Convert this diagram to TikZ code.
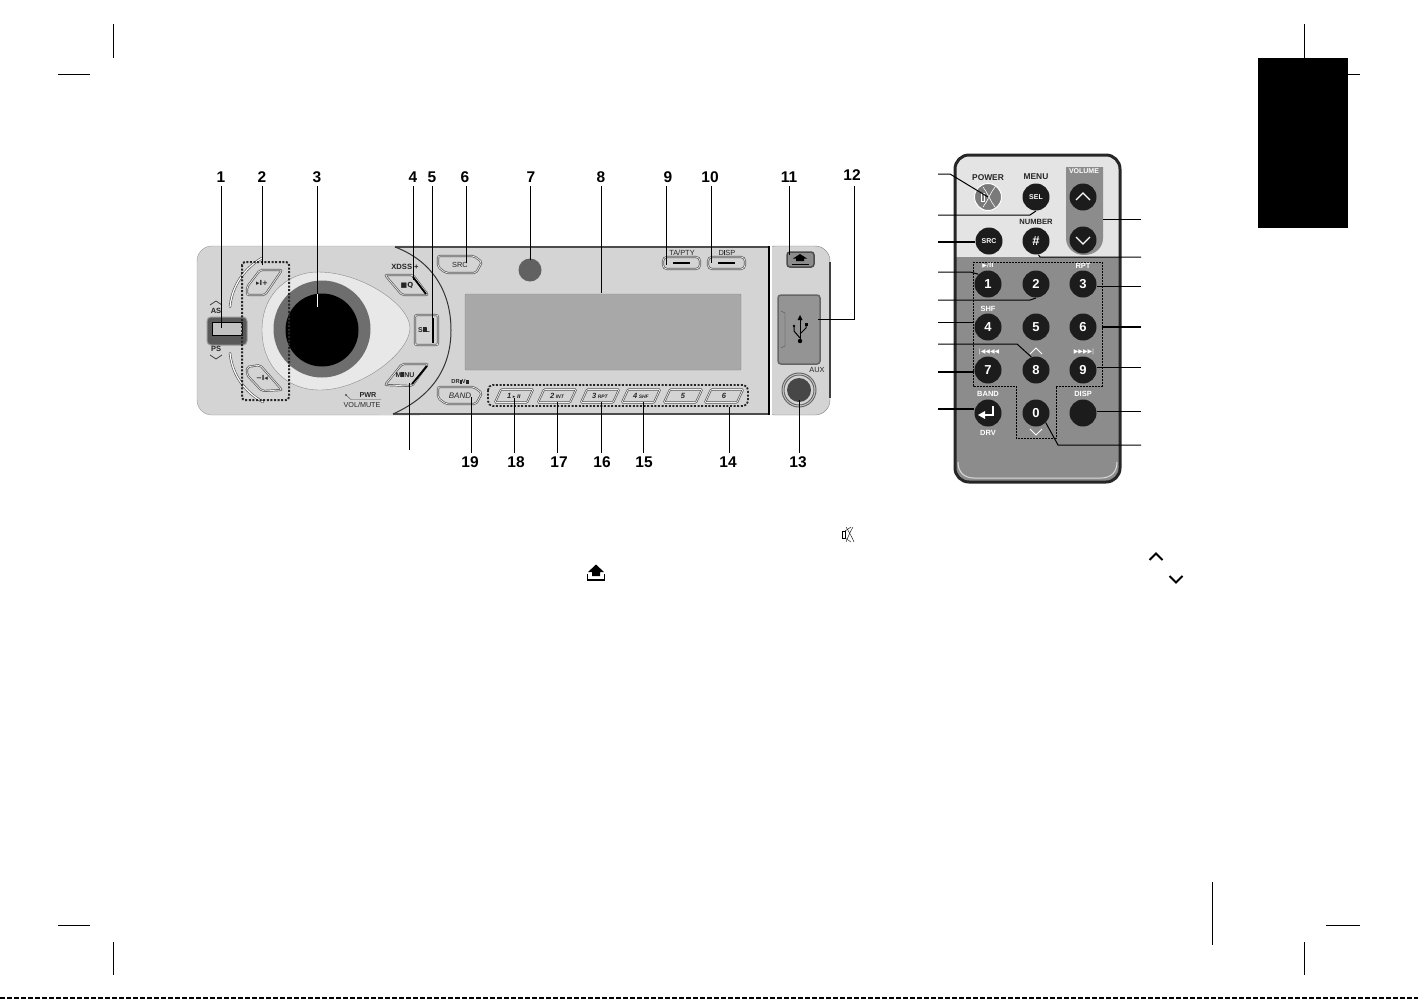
\documentclass[tikz,border=0pt]{standalone}
\usepackage{fontspec}
\setmainfont{Liberation Sans}
\newfontfamily\symfont{DejaVu Sans}
\usetikzlibrary{positioning}
\usetikzlibrary{calc}
\definecolor{plate}{HTML}{D4D4D4}
\definecolor{lcd}{HTML}{A8A8A8}
\definecolor{ringgray}{HTML}{6E6E6E}
\definecolor{remotegray}{HTML}{8C8C8C}
\definecolor{remotelight}{HTML}{E4E4E4}
\definecolor{keyblack}{HTML}{1C1C1C}
\tikzset{every picture/.style={line width=1pt}}

\begin{document}
\begin{tikzpicture}[x=1pt,y=-1pt,
num/.style={inner sep=0pt, font=\fontsize{15.5}{15.5}\selectfont\bfseries},
leader/.style={black, line width=1pt},
thickleader/.style={black, line width=1.8pt},
key/.style={circle, fill=keyblack, minimum width=27pt, inner sep=0pt, text=white, font=\fontsize{7}{7}\selectfont\bfseries},
digit/.style={key, font=\fontsize{13}{13}\selectfont\bfseries},
rlab/.style={inner sep=0pt, text=white, font=\fontsize{7.5}{7.5}\selectfont\bfseries},
tlab/.style={inner sep=0pt, text=black!85, font=\fontsize{8.4}{8.4}\selectfont\bfseries},
flab/.style={inner sep=0pt, text=black!85, font=\fontsize{7.4}{7.4}\selectfont},
plab/.style={flab, font=\fontsize{5}{5}\selectfont\bfseries\itshape},
btn/.style={draw=black!65, double=plate!40, double distance=0.7pt, line width=0.7pt, fill=plate, rounded corners=2pt},
dotbox/.style={draw=black!85, line width=2pt, dash pattern=on 2pt off 1.6pt, rounded corners=3pt},
chev/.style={line width=0.8pt, draw=black!75}]

\useasboundingbox (0,0) rectangle (1418,999);

% crop marks and tab
\foreach \a/\b in {{113,24}/{113,58}, {58,74}/{90,74}, {1304,24}/{1304,58}, {1330,74}/{1360,74},
  {58,925}/{90,925}, {113,942}/{113,975}, {1304,942}/{1304,975}, {1326,925}/{1360,925}, {1212,882}/{1212,945}}
{ \draw[thin, black] (\a) -- (\b); }
\fill[black] (1258,58) rectangle (1348,228);
\draw[black, line width=1.2pt, dash pattern=on 5pt off 2pt] (0,998) -- (1418,998);

% faceplate
\draw[fill=plate, draw=black!50, thin, rounded corners=15pt] (760,246) -- (830,246) -- (830,415) -- (760,415) -- cycle;
\draw[black!75, line width=1.2pt] (830,262) -- (830,398);
\fill[white] (768,244) rectangle (772,417);
\draw[fill=plate, draw=black!40, thin, rounded corners=15pt] (420,246) -- (197,246) -- (197,415) -- (420,415);
\fill[plate] (380,246.5) rectangle (768,414.5);
\draw[black!70, line width=1.2pt] (395,247) -- (768,247);
\draw[black!70, line width=1.2pt] (393,414) -- (768,414);
\draw[black, line width=2pt] (769,246) -- (769,415);
\draw[black!80, line width=1pt] (395,247) .. controls (435,262) and (451,295) .. (451,330) .. controls (451,365) and (435,395) .. (393,414);

% display and eye
\draw[fill=lcd, draw=black!45, thin, rounded corners=1pt] (465,294) rectangle (741,370);
\draw[fill=black!9, draw=black!45, thin] (262,330) .. controls (262,292) and (290,272) .. (318,272) .. controls (362,272) and (410,305) .. (410,328) .. controls (410,352) and (362,390) .. (320,390) .. controls (285,390) and (262,365) .. (262,330) -- cycle;
\fill[ringgray] (322,329) circle (48.5);
\node (dial) at (322,330) [circle, fill=black, minimum width=73pt, inner sep=0pt] {};
\node (sensor) at (530,270) [circle, fill=black!62, minimum width=23pt, inner sep=0pt] {};

% left side buttons
\draw[fill=black!65, draw=black!40, rounded corners=4pt] (207,317) rectangle (247,345);
\draw[fill=lcd!70, draw=black, thin] (212,322) rectangle (242,335);
\draw[black!70, line width=2.4pt, line cap=round] (230,307) .. controls (232,285) and (245,268) .. (262,258);
\draw[white, line width=1.2pt, line cap=round] (230,307) .. controls (232,285) and (245,268) .. (262,258);
\draw[black!70, line width=2.4pt, line cap=round] (230,353) .. controls (232,375) and (245,392) .. (263,402);
\draw[white, line width=1.2pt, line cap=round] (230,353) .. controls (232,375) and (245,392) .. (263,402);
\draw[btn] (247,287) -- (260,270) -- (282,270) -- (265,295) -- (247,295) -- cycle;
\draw[btn] (247,367) -- (260,365) -- (282,390) -- (262,391) -- (247,375) -- cycle;
\draw[dotbox] (242,262) rectangle (289,400);
\node (nexttxt) at (262,283) [flab, font=\fontsize{7}{7}\selectfont\bfseries] {\symfont ▸I+};
\node (prevtxt) at (262,378) [flab, font=\fontsize{7}{7}\selectfont\bfseries] {\symfont −I◂};
\node (astxt) at (216,311) [tlab, font=\fontsize{7.5}{7.5}\selectfont\bfseries] {AS};
\node (pstxt) at (216,349) [tlab, font=\fontsize{7.5}{7.5}\selectfont\bfseries] {PS};
\draw[chev] (210,305) -- (216,301) -- (222,305);
\draw[chev] (210,355) -- (216,359) -- (222,355);

% buttons at the arc
\draw[btn] (385,275) -- (413,275) -- (428,295) -- (402,295) -- cycle;
\draw[black, line width=1.8pt] (413,277) -- (426,294);
\draw[btn] (415,315) rectangle (438,345);
\draw[black, line width=2pt] (433,318) -- (433,343);
\draw[btn] (385,385) -- (402,364) -- (428,364) -- (412,386) -- cycle;
\draw[black, line width=1.8pt] (427,366) -- (412,384);
\node (xdsstxt) at (405,267) [flab, font=\fontsize{7.6}{7.6}\selectfont\bfseries] {XDSS +};
\node (eqtxt) at (407,285) [flab, font=\fontsize{7}{7}\selectfont\bfseries] {\symfont ■Q};
\node (seltxt) at (424,330) [flab, font=\fontsize{7}{7}\selectfont\bfseries] {S\rule{3pt}{5pt}L};
\node (menutxt) at (405,375) [flab, font=\fontsize{7}{7}\selectfont\bfseries] {M\rule{3pt}{5pt}NU};
\node (pwrtxt) at (368,395) [flab, font=\fontsize{7.2}{7.2}\selectfont\bfseries] {PWR};
\node (voltxt) at (362,405) [flab, font=\fontsize{7.2}{7.2}\selectfont] {VOL/MUTE};
\fill[black!70] (346,395) circle (1.1);
\draw[black!70, thin] (346,395) -- (351,399.5) -- (381,399.5);

% top and bottom buttons
\foreach \y in {256,387}
{ \draw[btn] (438,\y) -- (474,\y) -- (482,\y+6) -- (476,\y+17) -- (446,\y+17) -- (438,\y+11) -- cycle; }
\node (srctxt) at (460,265) [flab] {SRC};
\node (bandtxt) at (460,396) [flab, font=\fontsize{8}{8}\selectfont\itshape] {BAND};
\node (drvtxt) at (460,381.5) [flab, font=\fontsize{5.8}{5.8}\selectfont\bfseries] {DR\rule{2pt}{4pt}V\rule{3pt}{4pt}};

\foreach \x/\t in {663/{TA/PTY}, 708/{D\rule{1.5pt}{5pt}SP}}
{ \draw[btn, rounded corners=4pt] (\x,257) rectangle (\x+37,269);
  \draw[black, line width=1.4pt] (\x+10,263) -- (\x+27,263);
  \node at (\x+19,252.5) [flab] {\t}; }

\foreach \x/\d/\t in {495/1/{\symfont ▸ II}, 538/2/INT, 581/3/RPT, 622/4/SHF, 664/5/, 705/6/}
{ \draw[btn, rounded corners=1pt] (\x+6,389.5) -- (\x+38,389.5) -- (\x+32,402.5) -- (\x,402.5) -- cycle;
  \node at (\x+19,396) [plab] {{\fontsize{7.5}{7.5}\selectfont\d}\ \t}; }
\draw[dotbox, line width=1.8pt, rounded corners=5pt] (488,385) rectangle (748,406);

% right part
\draw[fill=black!45, draw=black!70, line width=1.5pt, rounded corners=3pt] (787,252) rectangle (814,267);
\fill[black] (800,254) -- (807,258.5) -- (804,258.5) -- (804,261) -- (796,261) -- (796,258.5) -- (793,258.5) -- cycle;
\draw[black, thin] (792,264) -- (809,264);

\draw[fill=black!42, draw=black!60, line width=1.5pt, rounded corners=3pt] (778,295) rectangle (820,364);
\draw[black!70, thin] (781,311) -- (785,313) -- (785,346) -- (781,348);
\draw[black, thick] (800,342) -- (800,318);
\fill[black] (800,341) circle (2.2);
\fill[black] (800,315) -- (797.5,320) -- (802.5,320) -- cycle;
\draw[black] (800,338) -- (794,331) -- (794,327);
\draw[black] (800,334) -- (806,328) -- (806,325);
\fill[black] (794,326) circle (1.4);
\fill[black] (804.5,323) rectangle (807.5,326);
\node (auxtxt) at (817,370) [flab] {AUX};
\draw[fill=plate, draw=black!60] (799,390) circle (17);
\draw[draw=black!60, fill=plate] (799,390) circle (15);
\node (jack) at (799,390) [circle, fill=black!72, minimum width=24pt, inner sep=0pt] {};

% numbers above
\foreach \n/\x/\xt/\yt in {1/221/221/328, 2/262/262/265, 3/317/317/294, 4/413/413/280, 5/432/432/323, 6/465/466/263,
  7/531/530/260, 8/601/601/293, 9/668/666/265, 10/710/711/263, 11/789/789/255}
{ \node (n\n) at (\x,177) [num] {\n};
  \coordinate (t\n) at (\xt,\yt);
  \draw[leader] (n\n.south -| t\n) ++(0,3) -- (t\n); }
\draw[white, line width=1pt] (t3) -- ++(0,13);
\node (n12) at (852,175) [num] {12};
\coordinate (t12) at (818,319);
\draw[leader] (854,186) |- (t12);

% numbers below
\foreach \n/\x/\xt/\yt in {19/470/471/397, 18/516/514/398, 17/559/557/402, 16/602/601/402, 15/644/643/402, 14/728/729/407, 13/798/799/400}
{ \node (n\n) at (\x,462) [num] {\n};
  \coordinate (t\n) at (\xt,\yt);
  \draw[leader] (n\n.north -| t\n) ++(0,-3) -- (t\n); }
\coordinate (menufree) at (409,450);
\coordinate (menubtn) at (409,383);
\draw[leader] (menufree) -- (menubtn);

% remote body
\draw[fill=remotelight, draw=none, rounded corners=14pt] (955,155) rectangle (1120,482);
\fill[remotegray, rounded corners=14pt] (956,257) -- (956,481) -- (1119,481) -- (1119,257) -- cycle;
\fill[remotegray] (956,257) rectangle (1119,275);
\draw[white!70!remotegray, line width=1pt] (958,462) .. controls (958,472) and (964,478) .. (974,478) -- (1101,478) .. controls (1111,478) and (1117,472) .. (1117,462);
\draw[black!85, line width=3pt, rounded corners=14pt] (955,155) rectangle (1120,482);
\fill[remotegray] (1066,167) -- (1066,238) .. controls (1066,248) and (1074,255) .. (1084,255) .. controls (1095,255) and (1103,248) .. (1103,238) -- (1103,167) -- cycle;

\draw[black, thin, dash pattern=on 2pt off 1pt] (973,262) -- (1102,262) -- (1102,386) -- (1056,386) -- (1056,438) -- (1016,438) -- (1016,386) -- (973,386) -- cycle;

% remote keys
\node (bpower) at (988,197) [key, fill=black!52, draw=white, line width=1pt] {};
\foreach \a in {-1,1}
{ \draw[white, line width=0.6pt] (989+\a*6,187) .. controls (989+\a*1,193) and (989-\a*1,201) .. (989-\a*6,207); }
\draw[white, line width=0.6pt] (981,193) rectangle (984,201);
\foreach \nm/\x/\y/\t in {bsel/1036/197/SEL, bsrc/989/241/SRC, bdisp/1083/413/{}, bband/988/413/{}, bup/1083/197/{}, bdown/1083/240/{}}
{ \node (\nm) at (\x,\y) [key] {\t}; }
\foreach \nm/\x/\y/\t in {bhash/1036/241/\#, bone/988/284/1, btwo/1036/284/2, bthree/1083/284/3, bfour/988/327/4,
  bfive/1036/327/5, bsix/1083/327/6, bseven/988/370/7, beight/1036/370/8, bnine/1083/370/9, bzero/1036/413/0}
{ \node (\nm) at (\x,\y) [digit] {\t}; }
\draw[white, line width=1.3pt] (1076,200) -- (1083,193) -- (1090,200);
\draw[white, line width=1.3pt] (1076,237) -- (1083,244) -- (1090,237);
\draw[white, line width=1.5pt] (993,406) -- (993,415) -- (982,415);
\fill[white] (978,415) -- (985,411) -- (985,419) -- cycle;
\draw[white, line width=0.8pt] (1030,354) -- (1036,348) -- (1042,354);
\draw[white, line width=0.8pt] (1030,429) -- (1036,435) -- (1042,429);

% remote texts
\node (lpower) at (988,178) [tlab] {POWER};
\node (lmenu) at (1036,177) [tlab] {MENU};
\node (lnumber) at (1036,222) [tlab, font=\fontsize{7.6}{7.6}\selectfont\bfseries] {NUMBER};
\node (lvolume) at (1084,171.5) [rlab, font=\fontsize{7}{7}\selectfont\bfseries] {VOLUME};
\node (lplay) at (988,265.5) [rlab, font=\fontsize{6}{6}\selectfont\bfseries] {\symfont ▶/II};
\node (lrpt) at (1083,266) [rlab] {RPT};
\node (lshf) at (988,309) [rlab] {SHF};
\node (lrew) at (989,352) [rlab, font=\fontsize{6}{6}\selectfont] {\symfont |◀◀◀◀};
\node (lfwd) at (1084,352) [rlab, font=\fontsize{6}{6}\selectfont] {\symfont ▶▶▶▶|};
\node (lband) at (988,394) [rlab] {BAND};
\node (ldrv) at (988,433) [rlab] {DRV};
\node (ldisp) at (1083,394) [rlab] {DISP};

% remote leaders, left
\foreach \nm/\y in {la/174, lb/215, lc/242, ld/272, le/300, lf/322, lg/344, lh/372, li/409}
{ \coordinate (\nm) at (938,\y); }
\draw[leader] (la) -- (950,174) -- (bpower.center);
\draw[leader] (lb) -- (1030,215) -- (bsel.south);
\draw[thickleader] (lc) -- (lc -| bsrc.west);
\draw[leader] (ld) -- (970,272) -- (bone.north west);
\draw[leader] (le) -- (1030,300) -- (btwo.south);
\draw[leader] (lf) -- (lf -| bfour.west);
\draw[leader] (lg) -- (1017,344) -- (beight.110);
\draw[thickleader] (lh) -- (lh -| bseven.west);
\draw[thickleader] (li) -- (li -| bband.west);

% remote leaders, right
\foreach \nm/\y in {ra/219, rb/257, rc/286, rd/327, re/367, rf/411, rg/445}
{ \coordinate (\nm) at (1141,\y); }
\coordinate (volpanel) at (1103,219);
\coordinate (numblock) at (1102,327);
\draw[leader] (ra) -- (volpanel);
\draw[leader] (rb) -- (1040,257) -- (bhash.280);
\draw[leader] (rc) -- (rc -| bthree.east);
\draw[thickleader] (rd) -- (numblock);
\draw[leader] (re) -- (re -| bnine.east);
\draw[leader] (rf) -- (rf -| bdisp.east);
\draw[leader] (rg) -- (1058,445) -- (bzero.south east);

% icons in the blank text
\draw[black, thin] (842,531) rectangle (845,538);
\draw[black, thin] (845,531) -- (851,527);
\draw[black, thin] (845,538) -- (851,542);
\draw[black, thin] (846,527) .. controls (849,532) and (852,537) .. (854,542);
\draw[black, thin] (853,527) .. controls (850,532) and (848,537) .. (846,542);
\fill[black] (596,564.5) -- (604,572) -- (600,572) -- (600,576) -- (592,576) -- (592,572) -- (588,572) -- cycle;
\draw[black, line width=1.4pt] (587.5,574) -- (587.5,580) -- (604.5,580) -- (604.5,574);
\draw[black, line width=2pt] (1149.5,560) -- (1156,553.5) -- (1162.5,560);
\draw[black, line width=2pt] (1169.5,576) -- (1176,582.5) -- (1182.5,576);

\end{tikzpicture}
\end{document}
